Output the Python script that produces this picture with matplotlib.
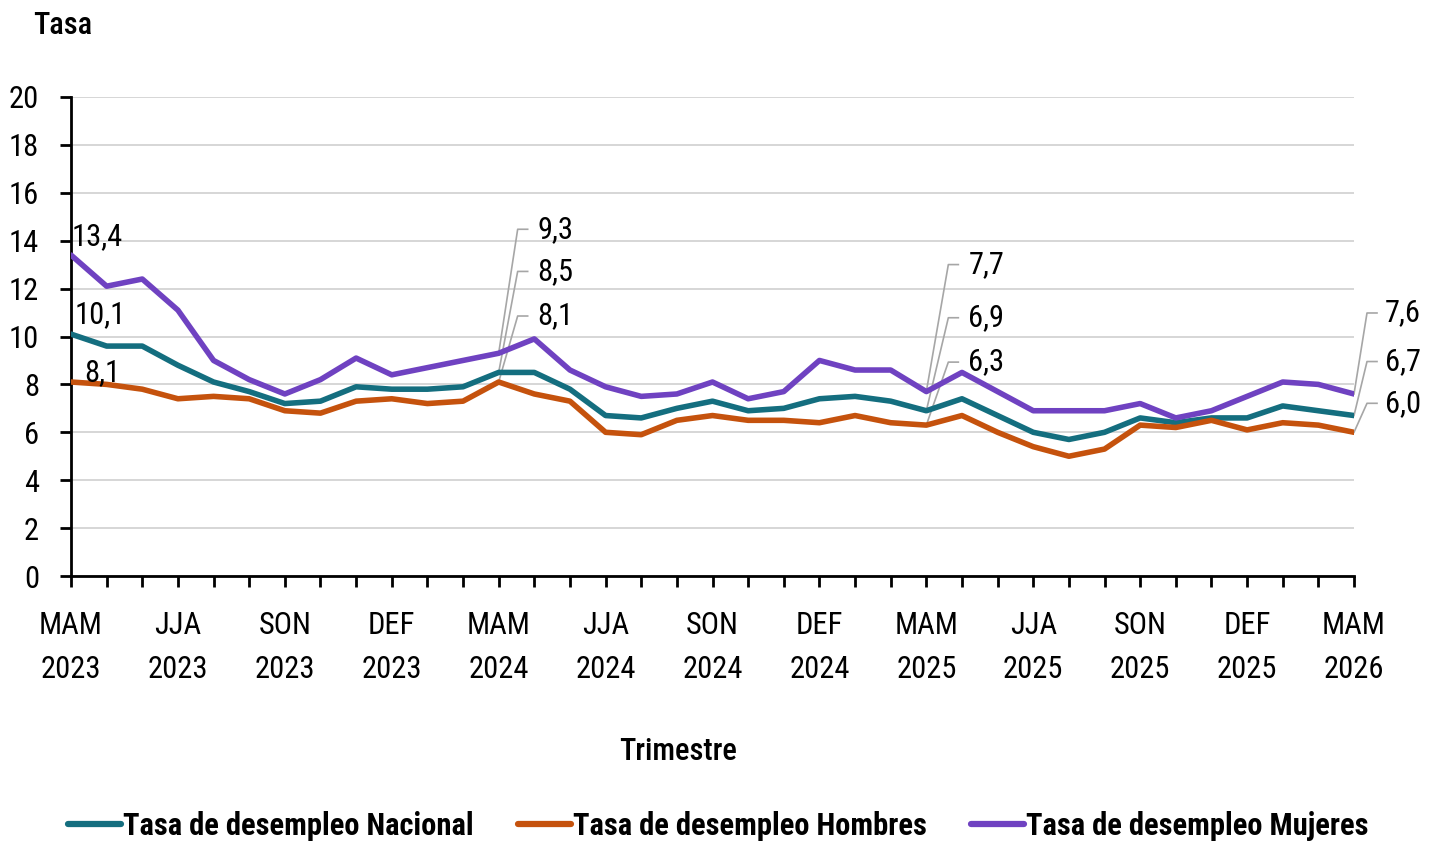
#!/usr/bin/env python3
"""Tasa de desempleo trimestral: nacional, hombres y mujeres."""

import matplotlib

matplotlib.use("Agg")
import matplotlib.pyplot as plt

trimestres = [
    "MAM 2023", "AMJ 2023", "MJJ 2023", "JJA 2023", "JAS 2023", "ASO 2023",
    "SON 2023", "OND 2023", "NDE 2023", "DEF 2023", "EFM 2024", "FMA 2024",
    "MAM 2024", "AMJ 2024", "MJJ 2024", "JJA 2024", "JAS 2024", "ASO 2024",
    "SON 2024", "OND 2024", "NDE 2024", "DEF 2024", "EFM 2025", "FMA 2025",
    "MAM 2025", "AMJ 2025", "MJJ 2025", "JJA 2025", "JAS 2025", "ASO 2025",
    "SON 2025", "OND 2025", "NDE 2025", "DEF 2025", "EFM 2026", "FMA 2026",
    "MAM 2026",
]
nacional = [
    10.1, 9.6, 9.6, 8.8, 8.1, 7.7, 7.2, 7.3, 7.9, 7.8, 7.8, 7.9,
    8.5, 8.5, 7.8, 6.7, 6.6, 7.0, 7.3, 6.9, 7.0, 7.4, 7.5, 7.3,
    6.9, 7.4, 6.7, 6.0, 5.7, 6.0, 6.6, 6.4, 6.6, 6.6, 7.1, 6.9,
    6.7,
]
hombres = [
    8.1, 8.0, 7.8, 7.4, 7.5, 7.4, 6.9, 6.8, 7.3, 7.4, 7.2, 7.3,
    8.1, 7.6, 7.3, 6.0, 5.9, 6.5, 6.7, 6.5, 6.5, 6.4, 6.7, 6.4,
    6.3, 6.7, 6.0, 5.4, 5.0, 5.3, 6.3, 6.2, 6.5, 6.1, 6.4, 6.3,
    6.0,
]
mujeres = [
    13.4, 12.1, 12.4, 11.1, 9.0, 8.2, 7.6, 8.2, 9.1, 8.4, 8.7, 9.0,
    9.3, 9.9, 8.6, 7.9, 7.5, 7.6, 8.1, 7.4, 7.7, 9.0, 8.6, 8.6,
    7.7, 8.5, 7.7, 6.9, 6.9, 6.9, 7.2, 6.6, 6.9, 7.5, 8.1, 8.0,
    7.6,
]
series_names = [
    "Tasa de desempleo Nacional",
    "Tasa de desempleo Hombres",
    "Tasa de desempleo Mujeres",
]
label_every = 3

plt.rcParams["font.family"] = ["Roboto Condensed", "Roboto", "DejaVu Sans"]

colors = ["#146E7F", "#C5520D", "#6F42C1"]
lead_color = "#A6A6A6"
fs = 22

fig = plt.figure(figsize=(14.36, 8.44), dpi=100)
ax = fig.add_axes([71 / 1436, 1 - 576 / 844, (1354 - 71) / 1436, (576 - 97) / 844])

x = list(range(len(trimestres)))
all_series = [nacional, hombres, mujeres]
for values, color, name in zip(all_series, colors, series_names):
    ax.plot(x, values, color=color, lw=4, solid_joinstyle="round",
            solid_capstyle="round", label=name, zorder=3)

ax.set_xlim(0, len(x) - 1)
ax.set_ylim(0, 20)
ax.set_yticks(range(0, 21, 2))
ax.yaxis.grid(True, color="#D0D0D0", lw=1.2)
ax.set_axisbelow(True)
for side in ("top", "right"):
    ax.spines[side].set_visible(False)
for side in ("left", "bottom"):
    ax.spines[side].set_linewidth(2)
    ax.spines[side].set_color("black")

major = x[::label_every]
ax.set_xticks(major, labels=[trimestres[i].replace(" ", "\n") for i in major])
ax.set_xticks(x, minor=True)
ax.tick_params(axis="x", which="both", length=8, width=2, direction="out",
               labelsize=fs, pad=17)
ax.tick_params(axis="y", length=8, width=2, direction="out", labelsize=fs, pad=15)
for lbl in ax.get_xticklabels():
    lbl.set_linespacing(1.65)

fig.text(33 / 1436, 1 - 25 / 844, "Tasa", fontsize=fs, va="center", ha="left",
         fontweight="medium")
fig.text(678 / 1436, 1 - 752 / 844, "Trimestre", fontsize=fs, va="center",
         ha="center", fontweight="medium")


def fmt(v):
    return f"{v:.1f}".replace(".", ",")


# first point: plain labels above each line
first_offsets = [(4, 19), (13, 9), (1, 18)]
for values, (dx, dy) in zip(all_series, first_offsets):
    ax.annotate(fmt(values[0]), (0, values[0]), xytext=(dx, dy),
                textcoords="offset pixels", fontsize=fs, va="center", ha="left",
                zorder=4)

# leader-line labels: (index, bend dx, text dx, [rise nacional, hombres, mujeres])
leaders = [
    (12, 19, 39, [101, 66, 124]),
    (24, 22, 42, [93, 63, 127]),
    (36, 13, 31, [54, 29, 81]),
]
inv = ax.transData.inverted()
for idx, bend_dx, text_dx, rises in leaders:
    for values, rise in zip(all_series, rises):
        px, py = ax.transData.transform((idx, values[idx]))
        pts = [(px, py), (px + bend_dx, py + rise), (px + bend_dx + 10, py + rise)]
        data_pts = inv.transform(pts)
        ax.plot(data_pts[:, 0], data_pts[:, 1], color=lead_color, lw=1.2,
                clip_on=False, zorder=2)
        ax.annotate(fmt(values[idx]), (idx, values[idx]), xytext=(text_dx, rise),
                    textcoords="offset pixels", fontsize=fs, va="center", ha="left",
                    annotation_clip=False)

leg = fig.legend(loc="center", bbox_to_anchor=(718 / 1436, 1 - 826 / 844), ncol=3,
                 frameon=False, handlelength=1.75, handletextpad=0.05,
                 columnspacing=1.45, prop={"size": fs, "weight": "bold"})
for line in leg.get_lines():
    line.set_linewidth(4.5)

fig.savefig("out.png", dpi=100)
